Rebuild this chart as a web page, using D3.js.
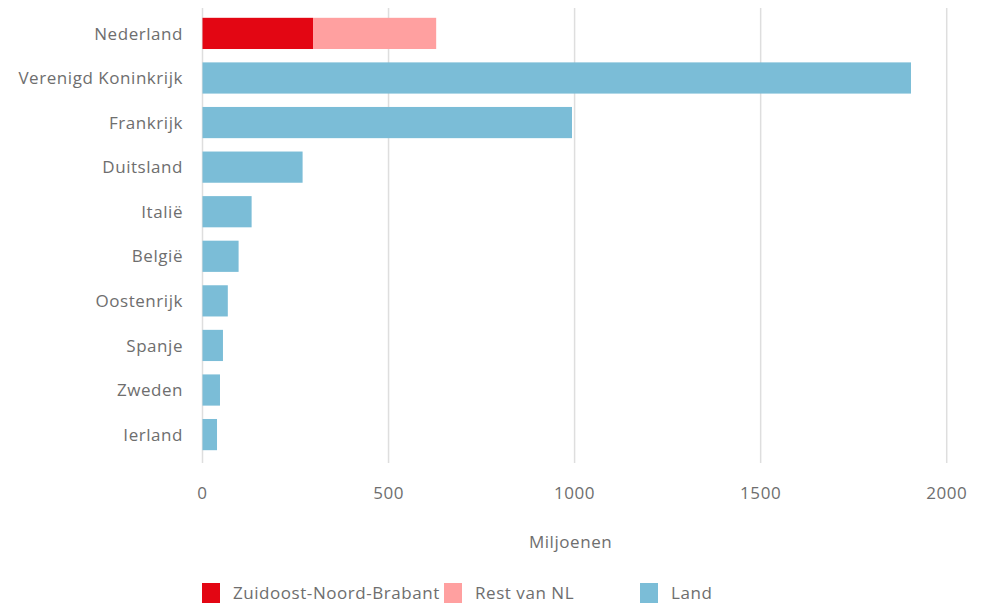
<!DOCTYPE html>
<html>
<head>
<meta charset="utf-8">
<script src="https://cdn.jsdelivr.net/npm/d3@7"></script>
<style>
  body { margin: 0; background: #fff; }
  svg text { font-family: "Open Sans", "Noto Sans", sans-serif; fill: #6e6e6e; letter-spacing: 0.55px; }
</style>
</head>
<body>
<svg id="chart" width="989" height="603"></svg>
<script>
const categories = ["Nederland", "Verenigd Koninkrijk", "Frankrijk", "Duitsland", "Italië", "België", "Oostenrijk", "Spanje", "Zweden", "Ierland"];
const zuidoost = [297, 0, 0, 0, 0, 0, 0, 0, 0, 0];
const restNL = [331, 0, 0, 0, 0, 0, 0, 0, 0, 0];
const land = [0, 1904, 993, 269, 132, 97, 68, 55, 47, 39];
const seriesNames = ["Zuidoost-Noord-Brabant", "Rest van NL", "Land"];
const seriesColors = ["#e30613", "#ffa0a0", "#7bbdd7"];
const xTicks = [0, 500, 1000, 1500, 2000];
const axisTitle = "Miljoenen";

const svg = d3.select("#chart");
const x = d3.scaleLinear().domain([0, 2000]).range([202.5, 946.7]);
const y = d3.scaleBand().domain(categories).range([8, 460]).paddingInner(0.3).paddingOuter(0.22);

// gridlines
svg.append("g").selectAll("line").data(xTicks).join("line")
  .attr("x1", d => x(d)).attr("x2", d => x(d))
  .attr("y1", 8).attr("y2", 463)
  .attr("stroke", "#dedede").attr("stroke-width", 1.5);

// stacked data
const rows = categories.map((c, i) => ({ cat: c, vals: [zuidoost[i], restNL[i], land[i]] }));
const g = svg.append("g");
rows.forEach(r => {
  let acc = 0;
  r.vals.forEach((v, k) => {
    if (v > 0) {
      g.append("rect")
        .attr("x", x(acc)).attr("width", x(acc + v) - x(acc))
        .attr("y", y(r.cat)).attr("height", y.bandwidth())
        .attr("fill", seriesColors[k]);
      acc += v;
    }
  });
});

// y labels
svg.append("g").selectAll("text").data(categories).join("text")
  .attr("x", 183).attr("y", d => y(d) + y.bandwidth() / 2)
  .attr("dy", "0.36em").attr("text-anchor", "end")
  .attr("font-size", 17).text(d => d);

// x tick labels
svg.append("g").selectAll("text").data(xTicks).join("text")
  .attr("x", d => x(d)).attr("y", 493).attr("dy", "0.35em")
  .attr("text-anchor", "middle").attr("font-size", 17).text(d => d);

svg.append("text").attr("x", (x(0) + x(2000)) / 2 - 4).attr("y", 542).attr("dy", "0.35em")
  .attr("text-anchor", "middle").attr("font-size", 17).text(axisTitle);

// legend
const legendX = [202, 444, 640];
const lg = svg.append("g");
seriesNames.forEach((n, i) => {
  lg.append("rect").attr("x", legendX[i]).attr("y", 583).attr("width", 18).attr("height", 20).attr("fill", seriesColors[i]);
  lg.append("text").attr("x", legendX[i] + 31).attr("y", 593).attr("dy", "0.35em")
    .attr("font-size", 17).text(n);
});
</script>
</body>
</html>
